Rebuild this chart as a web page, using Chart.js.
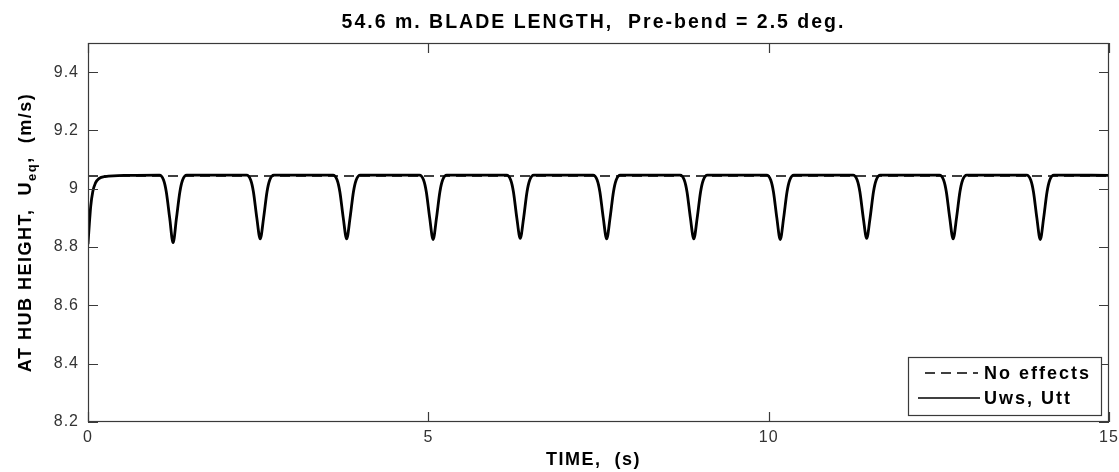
<!DOCTYPE html>
<html>
<head>
<meta charset="utf-8">
<script src="https://cdn.jsdelivr.net/npm/chart.js@4.4.0/dist/chart.umd.min.js"></script>
<style>
  html, body { margin: 0; padding: 0; background: #fff; }
  #wrap { width: 1119px; height: 472px; }
</style>
</head>
<body>
<div id="wrap"><canvas id="chart" width="1119" height="472"></canvas></div>
<script>
// Labels
const titleText = '54.6 m. BLADE LENGTH,  Pre-bend = 2.5 deg.';
const xTitle = 'TIME,  (s)';
const yTitleParts = ['AT HUB HEIGHT,  U', 'eq', ',  (m/s)'];
const seriesLabels = ['No effects', 'Uws, Utt'];

// Tick labels
const xTicks = [0, 5, 10, 15];
const yTicks = [8.2, 8.4, 8.6, 8.8, 9, 9.2, 9.4];

// "No effects" - flat line
const noEffectTime = [0, 15];
const noEffectValue = [9.044, 9.044];

// "Uws, Utt" - dips once per blade pass
const uTime = [
  0, 0.02, 0.04, 0.07, 0.11, 0.16, 0.25, 0.6,
  1.05, 1.11, 1.15, 1.20, 1.25, 1.30, 1.35, 1.39, 1.45,
  2.33, 2.39, 2.43, 2.48, 2.53, 2.58, 2.63, 2.67, 2.73,
  3.60, 3.66, 3.70, 3.75, 3.80, 3.85, 3.90, 3.94, 4.00,
  4.87, 4.93, 4.97, 5.02, 5.07, 5.12, 5.17, 5.21, 5.27,
  6.15, 6.21, 6.25, 6.30, 6.35, 6.40, 6.45, 6.49, 6.55,
  7.42, 7.48, 7.52, 7.57, 7.62, 7.67, 7.72, 7.76, 7.82,
  8.70, 8.76, 8.80, 8.85, 8.90, 8.95, 9.00, 9.04, 9.10,
  9.97, 10.03, 10.07, 10.12, 10.17, 10.22, 10.27, 10.31, 10.37,
  11.24, 11.30, 11.34, 11.39, 11.44, 11.49, 11.54, 11.58, 11.64,
  12.51, 12.57, 12.61, 12.66, 12.71, 12.76, 12.81, 12.85, 12.91,
  13.79, 13.85, 13.89, 13.94, 13.99, 14.04, 14.09, 14.13, 14.19,
  15
];
const uValue = [
  8.81, 8.88, 8.94, 8.99, 9.02, 9.035, 9.042, 9.046,
  9.047, 9.03, 8.99, 8.90, 8.815, 8.90, 8.99, 9.03, 9.047,
  9.047, 9.03, 8.99, 8.90, 8.828, 8.90, 8.99, 9.03, 9.047,
  9.047, 9.03, 8.99, 8.90, 8.828, 8.90, 8.99, 9.03, 9.047,
  9.047, 9.03, 8.99, 8.90, 8.826, 8.90, 8.99, 9.03, 9.047,
  9.047, 9.03, 8.99, 8.90, 8.830, 8.90, 8.99, 9.03, 9.047,
  9.047, 9.03, 8.99, 8.90, 8.828, 8.90, 8.99, 9.03, 9.047,
  9.047, 9.03, 8.99, 8.90, 8.828, 8.90, 8.99, 9.03, 9.047,
  9.047, 9.03, 8.99, 8.90, 8.826, 8.90, 8.99, 9.03, 9.047,
  9.047, 9.03, 8.99, 8.90, 8.830, 8.90, 8.99, 9.03, 9.047,
  9.047, 9.03, 8.99, 8.90, 8.828, 8.90, 8.99, 9.03, 9.047,
  9.047, 9.03, 8.99, 8.90, 8.826, 8.90, 8.99, 9.03, 9.047,
  9.046
];

const axisColor = '#3a3a3a';
const font = 'Arial, "Liberation Sans", sans-serif';
const boldFont = 'bold 18px ' + font;

function toPoints(xs, ys) {
  return xs.map((x, i) => ({ x: x, y: ys[i] }));
}

// wider glyph spacing for the tick labels, like the original
const spacingPlugin = {
  id: 'spacing',
  beforeDraw(chart) { chart.ctx.letterSpacing = '1px'; }
};

// box, inward ticks, titles and legend (matlab look)
const decorPlugin = {
  id: 'decor',
  afterDraw(chart) {
    const ctx = chart.ctx;
    const a = chart.chartArea;
    const sx = chart.scales.x, sy = chart.scales.y;
    const tl = 10;
    ctx.save();
    ctx.letterSpacing = '0px';
    ctx.strokeStyle = axisColor;
    ctx.lineWidth = 1.2;
    ctx.strokeRect(a.left + 0.5, a.top + 0.5, a.right - a.left - 1, a.bottom - a.top - 1);
    ctx.beginPath();
    yTicks.forEach(v => {
      const y = Math.round(sy.getPixelForValue(v)) + 0.5;
      ctx.moveTo(a.left, y); ctx.lineTo(a.left + tl, y);
      ctx.moveTo(a.right, y); ctx.lineTo(a.right - tl, y);
    });
    xTicks.forEach(v => {
      const x = Math.round(sx.getPixelForValue(v)) + 0.5;
      ctx.moveTo(x, a.bottom); ctx.lineTo(x, a.bottom - tl);
      ctx.moveTo(x, a.top); ctx.lineTo(x, a.top + tl);
    });
    ctx.stroke();

    const cx = (a.left + a.right) / 2 - 5;
    const cy = (a.top + a.bottom) / 2;
    ctx.fillStyle = '#000';
    ctx.textAlign = 'center';
    ctx.textBaseline = 'alphabetic';
    ctx.letterSpacing = '2px';
    ctx.font = 'bold 19.5px ' + font;
    ctx.fillText(titleText, cx, 28);
    ctx.letterSpacing = '1.5px';
    ctx.font = boldFont;
    ctx.fillText(xTitle, cx, 465);

    // y title with subscript
    ctx.save();
    ctx.translate(31, cy);
    ctx.rotate(-Math.PI / 2);
    ctx.font = boldFont;
    const w0 = ctx.measureText(yTitleParts[0]).width;
    const w2 = ctx.measureText(yTitleParts[2]).width;
    ctx.font = 'bold 13px ' + font;
    const w1 = ctx.measureText(yTitleParts[1]).width;
    let x0 = -(w0 + w1 + w2) / 2;
    ctx.textAlign = 'left';
    ctx.font = boldFont;
    ctx.fillText(yTitleParts[0], x0, 0);
    ctx.font = 'bold 13px ' + font;
    ctx.fillText(yTitleParts[1], x0 + w0, 5);
    ctx.font = boldFont;
    ctx.fillText(yTitleParts[2], x0 + w0 + w1, 0);
    ctx.restore();

    // legend box
    const lx = 908, ly = 357, lw = 193, lh = 58;
    ctx.fillStyle = '#fff';
    ctx.fillRect(lx, ly, lw, lh);
    ctx.lineWidth = 1.2;
    ctx.strokeStyle = axisColor;
    ctx.strokeRect(lx + 0.5, ly + 0.5, lw, lh);
    const ds = chart.data.datasets;
    const rows = [{ y: 373, x1: 925, x2: 978 }, { y: 398, x1: 918, x2: 980 }];
    ds.forEach((d, i) => {
      const r = rows[i];
      ctx.beginPath();
      ctx.strokeStyle = d.borderColor;
      ctx.lineWidth = 1.6;
      ctx.setLineDash(d.borderDash || []);
      ctx.moveTo(r.x1, r.y); ctx.lineTo(r.x2, r.y);
      ctx.stroke();
      ctx.setLineDash([]);
      ctx.fillStyle = '#000';
      ctx.font = boldFont;
      ctx.letterSpacing = '2px';
      ctx.textAlign = 'left';
      ctx.textBaseline = 'middle';
      ctx.fillText(d.label, 984, r.y + 1);
    });
    ctx.restore();
  }
};

new Chart(document.getElementById('chart'), {
  type: 'line',
  data: {
    datasets: [
      {
        label: seriesLabels[0],
        data: toPoints(noEffectTime, noEffectValue),
        borderColor: '#000',
        borderWidth: 1.5,
        borderDash: [10, 6],
        pointRadius: 0,
        fill: false
      },
      {
        label: seriesLabels[1],
        data: toPoints(uTime, uValue),
        borderColor: '#000',
        borderWidth: 2.8,
        pointRadius: 0,
        cubicInterpolationMode: 'monotone',
        fill: false
      }
    ]
  },
  options: {
    responsive: false,
    animation: false,
    layout: { padding: { left: 0, right: 10, top: 43, bottom: 0 } },
    plugins: {
      legend: { display: false },
      title: { display: false },
      tooltip: { enabled: false }
    },
    scales: {
      x: {
        type: 'linear',
        min: 0,
        max: 15,
        afterBuildTicks: s => { s.ticks = xTicks.map(v => ({ value: v })); },
        afterFit: s => { s.height = 50; s.paddingLeft = 0; s.paddingRight = 0; },
        grid: { display: false, drawTicks: false },
        border: { display: false },
        ticks: { color: '#333', padding: 6, font: { size: 16, family: font } }
      },
      y: {
        type: 'linear',
        min: 8.2,
        max: 9.5,
        afterBuildTicks: s => { s.ticks = yTicks.map(v => ({ value: v })); },
        afterFit: s => { s.width = 88; },
        grid: { display: false, drawTicks: false },
        border: { display: false },
        ticks: { color: '#333', padding: 9, font: { size: 16, family: font }, callback: v => String(v) }
      }
    }
  },
  plugins: [spacingPlugin, decorPlugin]
});
</script>
</body>
</html>
